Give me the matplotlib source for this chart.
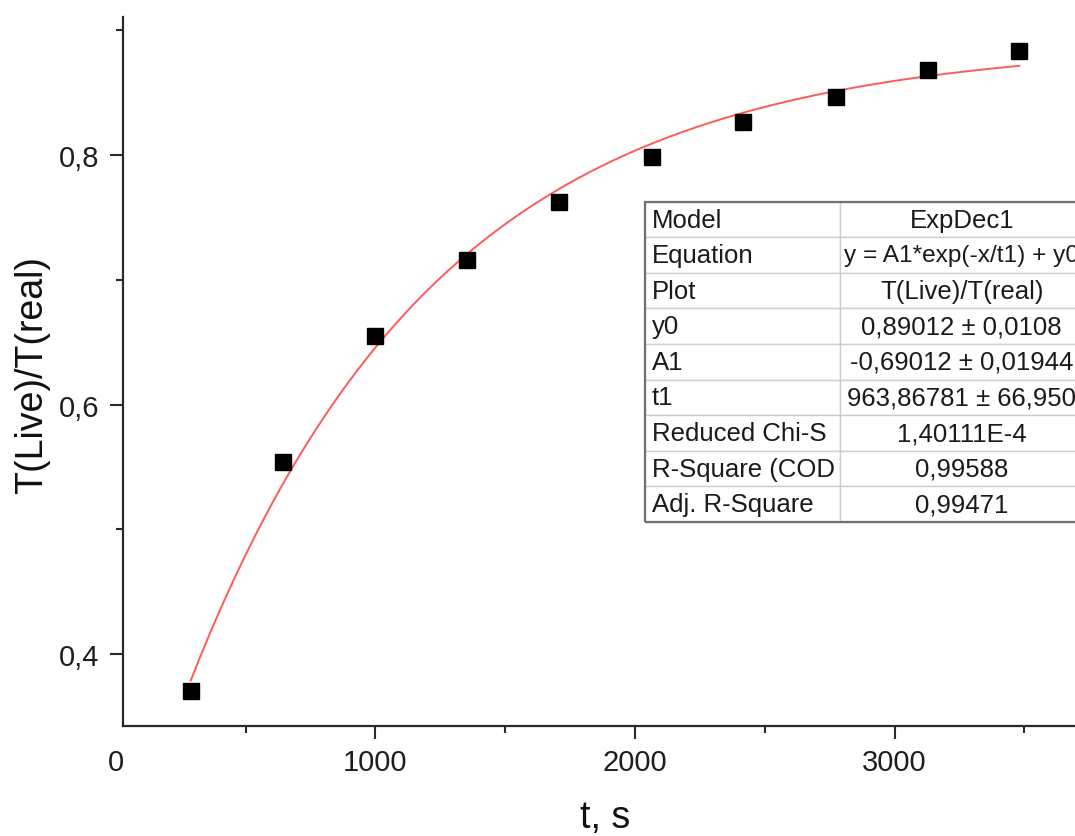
import numpy as np
import matplotlib
matplotlib.use("Agg")
import matplotlib.pyplot as plt
import matplotlib.transforms as mtransforms
from matplotlib.ticker import MultipleLocator, FixedLocator
from matplotlib.patches import Rectangle

plt.rcParams['font.family'] = ['Liberation Sans', 'DejaVu Sans']

# ---- data ----
t_s = [289, 646, 998, 1352, 1709, 2065, 2418, 2774, 3128, 3480]
ratio = [0.3706, 0.5537, 0.6552, 0.7158, 0.7621, 0.7986, 0.8267, 0.8463, 0.8684, 0.8836]

# fit parameters shown in the table (ExpDec1: y = A1*exp(-x/t1) + y0)
fit_y0 = 0.89012
fit_A1 = -0.69012
fit_t1 = 963.86781

x_major_ticks = [1000, 2000, 3000]
x_major_labels = ["1000", "2000", "3000"]
x_origin_label = "0"
y_major_ticks = [0.4, 0.6, 0.8]
y_major_labels = ["0,4", "0,6", "0,8"]

table_labels = ["Model", "Equation", "Plot", "y0", "A1", "t1",
                "Reduced Chi-S", "R-Square (COD", "Adj. R-Square"]
table_values = ["ExpDec1", "y = A1*exp(-x/t1) + y0", "T(Live)/T(real)",
                "0,89012 \u00b1 0,0108", "-0,69012 \u00b1 0,01944",
                "963,86781 \u00b1 66,950", "1,40111E-4", "0,99588", "0,99471"]

# ---- figure ----
fig = plt.figure(figsize=(10.75, 8.37), dpi=100)
ax = fig.add_axes([0.11488, 0.13106, 0.89600, 0.84707])

ax.plot(t_s, ratio, linestyle='none', marker='s', markersize=11.5,
        color='black', zorder=3)

xf = np.linspace(min(t_s), max(t_s), 300)
yf = fit_A1 * np.exp(-xf / fit_t1) + fit_y0
ax.plot(xf, yf, color='#ff5a5a', lw=1.4, zorder=2)

ax.set_xlim(30, 3740)
ax.set_ylim(0.34204, 0.91038)

for s in ['top', 'right']:
    ax.spines[s].set_visible(False)
for s in ['left', 'bottom']:
    ax.spines[s].set_linewidth(1.6)
    ax.spines[s].set_color('#2a2a2a')

ax.xaxis.set_major_locator(FixedLocator(x_major_ticks))
ax.set_xticklabels(x_major_labels)
ax.xaxis.set_minor_locator(MultipleLocator(500))
ax.yaxis.set_major_locator(FixedLocator(y_major_ticks))
ax.set_yticklabels(y_major_labels)
ax.yaxis.set_minor_locator(MultipleLocator(0.1))

ax.tick_params(which='major', direction='out', length=9.4, width=1.5,
               color='#2a2a2a', labelsize=21, labelcolor='#1e1e1e')
ax.tick_params(which='minor', direction='out', length=5, width=1.5,
               color='#2a2a2a')
ax.tick_params(axis='x', which='major', pad=6)
ax.tick_params(axis='y', which='major', pad=8)

# "0" label at the origin (axis starts slightly right of 0)
blend = mtransforms.blended_transform_factory(ax.transData, ax.transAxes)
ax.text(0, -0.0300, x_origin_label, transform=blend, ha='center', va='top',
        fontsize=21, color='#1e1e1e', clip_on=False)

ax.set_xlabel("t, s", fontsize=27, color='#111111')
ax.xaxis.label.set_verticalalignment('baseline')
ax.xaxis.set_label_coords(0.4999, -0.1415)
ax.set_ylabel("T(Live)/T(real)", fontsize=27, color='#111111')
ax.yaxis.label.set_verticalalignment('baseline')
ax.yaxis.set_label_coords(-0.0849, 0.4962)

# ---- results table ----
cell_text = [[a, b] for a, b in zip(table_labels, table_values)]
tb_left, tb_bottom, tb_w, tb_h = 0.5414, 0.2882, 0.4552, 0.4517
tbl = ax.table(cellText=cell_text, colWidths=[0.4448, 0.5552],
               cellLoc='left', bbox=[tb_left, tb_bottom, tb_w, tb_h])
tbl.auto_set_font_size(False)
tbl.set_fontsize(18.5)
for (r, c), cell in tbl.get_celld().items():
    cell.set_edgecolor('#cdcdcd')
    cell.set_linewidth(1.0)
    cell.set_facecolor('white')
    cell.get_text().set_color('#1a1a1a')
    if c == 0:
        cell.PAD = 0.036
    else:
        cell.get_text().set_horizontalalignment('center')
        cell._loc = 'center'
        if r == 1:
            cell.get_text().set_fontsize(17.6)
tbl.set_zorder(5)
ax.add_patch(Rectangle((tb_left, tb_bottom), tb_w, tb_h, transform=ax.transAxes,
                       fill=False, edgecolor='#707070', lw=1.6, zorder=6,
                       clip_on=False))

fig.savefig("out.png", dpi=100)
